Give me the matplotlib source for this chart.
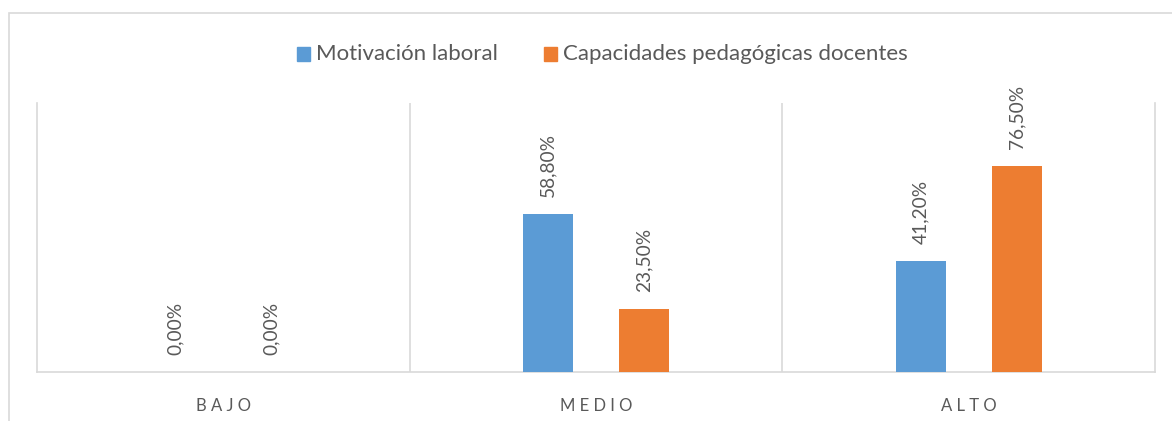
import matplotlib
matplotlib.use("Agg")
import matplotlib.pyplot as plt
from matplotlib.patches import Rectangle

categories = ["BAJO", "MEDIO", "ALTO"]
series_names = ["Motivación laboral", "Capacidades pedagógicas docentes"]
motivacion = [0.0, 58.8, 41.2]
capacidades = [0.0, 23.5, 76.5]
labels_motivacion = ["0,00%", "58,80%", "41,20%"]
labels_capacidades = ["0,00%", "23,50%", "76,50%"]

BLUE = "#5B9BD5"
ORANGE = "#ED7D31"
GRID = "#D9D9D9"
TEXT = "#595959"
FONT = "Lato"

W, H = 1172, 421
fig = plt.figure(figsize=(W / 100, H / 100), dpi=100)
plt.rcParams["font.family"] = [FONT, "DejaVu Sans"]

# outer chart border
fig.patches.append(Rectangle((9 / W, -0.1), 1.2, (H - 13) / H + 0.1,
                             transform=fig.transFigure, fill=False,
                             edgecolor=GRID, linewidth=1.2))

L, R, T, B = 37, 1155, 103, 372
ax = fig.add_axes([L / W, (H - B) / H, (R - L) / W, (B - T) / H])
ax.set_xlim(-0.5, 2.5)
ax.set_ylim(0, 100)

bw = 0.134
off = 0.129
x = list(range(len(categories)))
ax.bar([i - off for i in x], motivacion, width=bw, color=BLUE, zorder=3)
ax.bar([i + off for i in x], capacidades, width=bw, color=ORANGE, zorder=3)

pad = 17 / (B - T) * 100
for i in x:
    ax.text(i - off, motivacion[i] + pad, labels_motivacion[i], rotation=90,
            ha="center", va="bottom", fontsize=13.8, color=TEXT)
    ax.text(i + off, capacidades[i] + pad, labels_capacidades[i], rotation=90,
            ha="center", va="bottom", fontsize=13.8, color=TEXT)

for xv in [0.5, 1.5]:
    ax.axvline(xv, color=GRID, linewidth=1.2, zorder=1)

for s in ["top"]:
    ax.spines[s].set_visible(False)
for s in ["left", "right", "bottom"]:
    ax.spines[s].set_color(GRID)
    ax.spines[s].set_linewidth(1.2)

ax.set_yticks([])
ax.set_xticks(x)
ax.set_xticklabels([" ".join(c) for c in categories], fontsize=12, color=TEXT)
ax.tick_params(axis="x", length=0, pad=19)

# legend
ly = 54
for sx, tx, color, name in [(297, 316, BLUE, series_names[0]),
                            (544, 563, ORANGE, series_names[1])]:
    fig.patches.append(Rectangle((sx / W, (H - ly - 7) / H), 13 / W, 14 / H,
                                 transform=fig.transFigure, color=color))
    fig.text(tx / W, (H - ly) / H, name, ha="left", va="center",
             fontsize=16, color=TEXT)

fig.savefig("out.png", dpi=100)
